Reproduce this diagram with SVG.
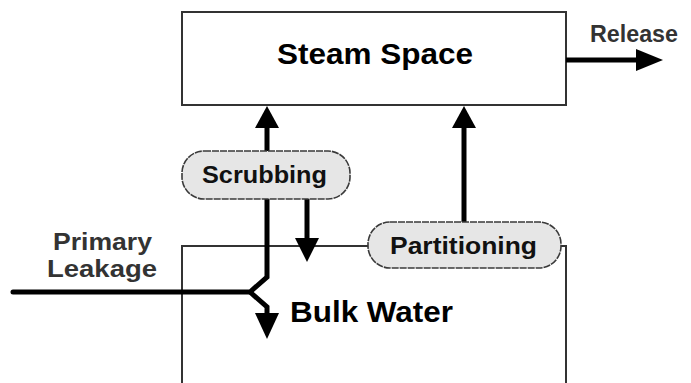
<svg xmlns="http://www.w3.org/2000/svg" width="691" height="383" viewBox="0 0 691 383">
<style>
.box{fill:#fff;stroke:#333;stroke-width:2}
.pill{fill:#e6e6e6;stroke:#3a3a3a;stroke-width:1.6;stroke-dasharray:7 1}
.flow{fill:none;stroke:#000;stroke-width:5;stroke-linejoin:miter}
.head{fill:#000}
.big{font-family:"Liberation Sans",Arial,sans-serif;font-weight:bold;font-size:29px;fill:#000;text-anchor:middle}
.mid{font-family:"Liberation Sans",Arial,sans-serif;font-weight:bold;font-size:23px;fill:#111;text-anchor:middle}
.lbl{font-family:"Liberation Sans",Arial,sans-serif;font-weight:bold;font-size:23px;fill:#333;text-anchor:middle}
</style>
<rect width="691" height="383" fill="#fff"/>
<g id="bulk-water">
<path class="box" d="M182,390 V246 H566 V390" fill="none"/>
<text class="big" x="371.5" y="322" textLength="163" lengthAdjust="spacingAndGlyphs">Bulk Water</text>
</g>
<g id="steam-space">
<rect class="box" x="182" y="12" width="384" height="93"/>
<text class="big" x="375" y="64" textLength="196" lengthAdjust="spacingAndGlyphs">Steam Space</text>
</g>
<g id="connectors">
<path class="flow" d="M13,292 H250 L267,277 V126" stroke-linecap="round"/>
<polygon class="head" points="267,106 255,128 279,128"/>
<path class="flow" d="M250,292 L267,307 V316"/>
<polygon class="head" points="267,339 255,313 279,313"/>
<path class="flow" d="M307,199 V240"/>
<polygon class="head" points="307,262 295,238 319,238"/>
<path class="flow" d="M464,222 V126"/>
<polygon class="head" points="464,106 452,128 476,128"/>
<path class="flow" d="M566,60 H640"/>
<polygon class="head" points="663,60 636,49 636,71"/>
</g>
<g id="scrubbing">
<rect class="pill" x="182" y="151" width="168" height="48" rx="22"/>
<text class="mid" x="264.5" y="183" textLength="125" lengthAdjust="spacingAndGlyphs">Scrubbing</text>
</g>
<g id="partitioning">
<rect class="pill" x="368" y="222" width="193" height="46" rx="22"/>
<text class="mid" x="463.5" y="254" textLength="147" lengthAdjust="spacingAndGlyphs">Partitioning</text>
</g>
<g id="primary-leakage">
<text class="lbl" x="102.5" y="250" textLength="99" lengthAdjust="spacingAndGlyphs">Primary</text>
<text class="lbl" x="102" y="277" textLength="110" lengthAdjust="spacingAndGlyphs">Leakage</text>
</g>
<g id="release">
<text class="lbl" x="634" y="42" textLength="88" lengthAdjust="spacingAndGlyphs">Release</text>
</g>
</svg>
